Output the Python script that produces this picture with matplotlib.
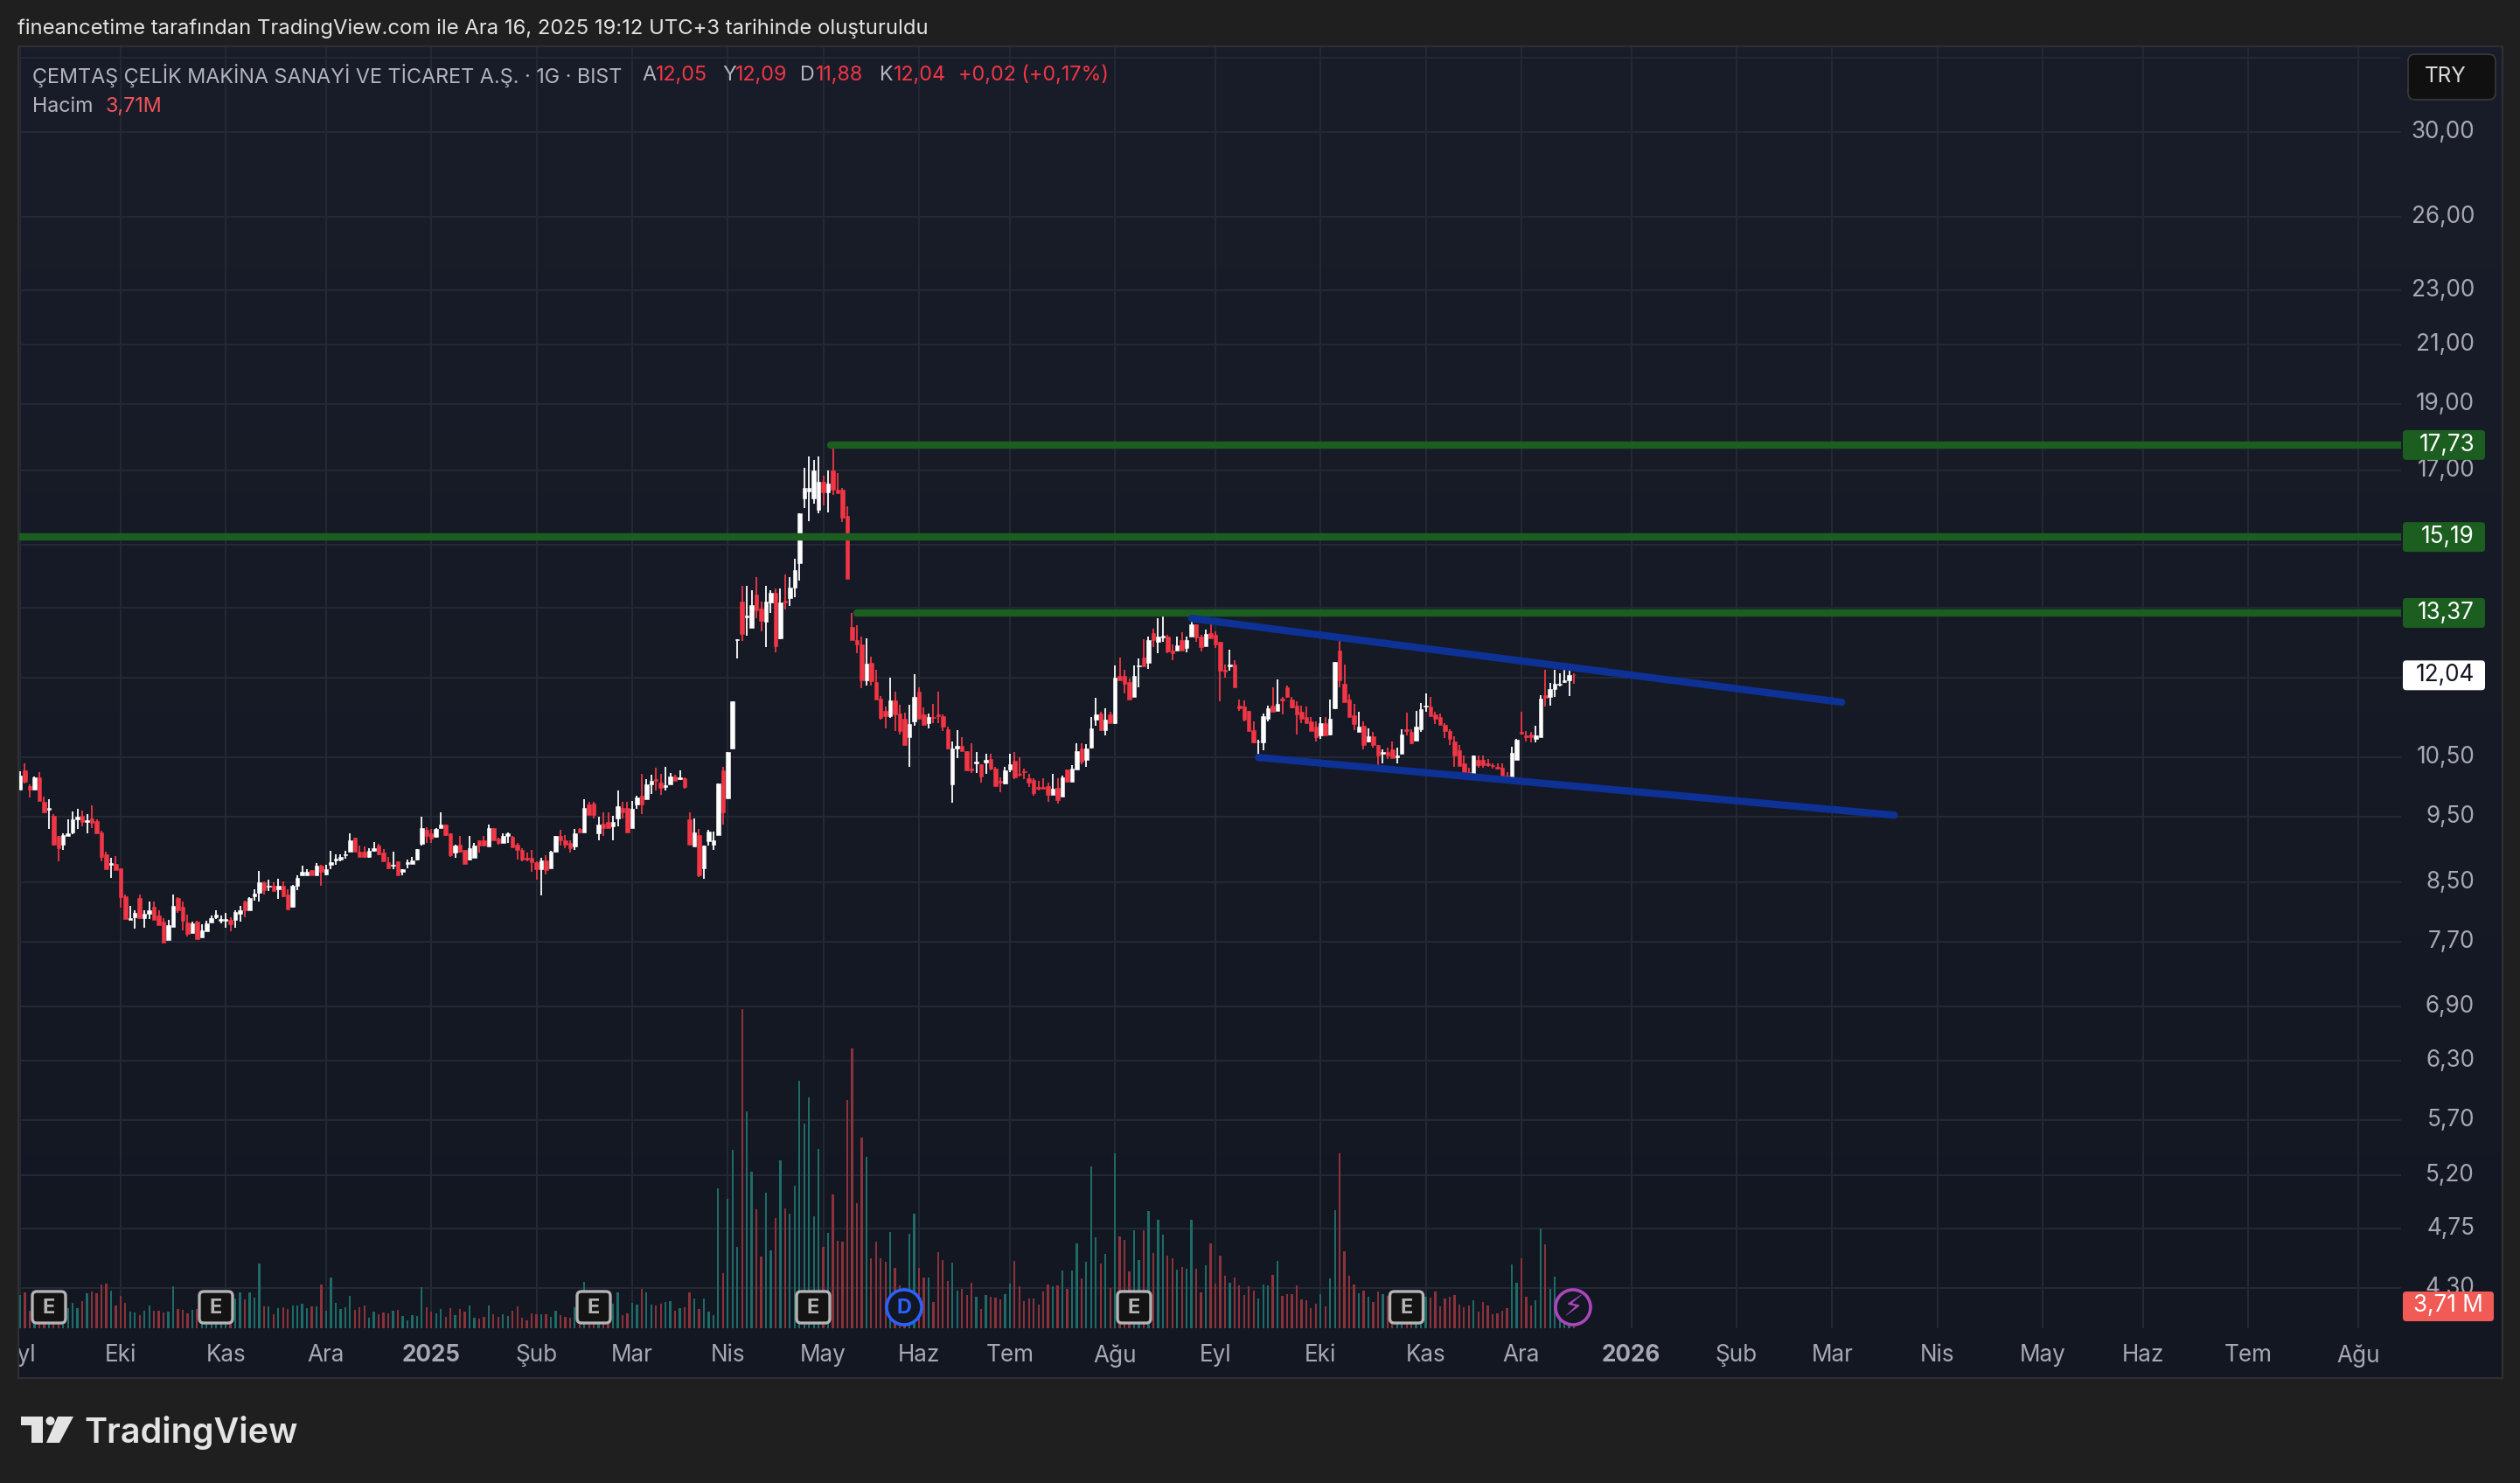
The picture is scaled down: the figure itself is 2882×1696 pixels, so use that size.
import numpy as np
import matplotlib
matplotlib.use("Agg")
import matplotlib.pyplot as plt
from matplotlib.patches import Rectangle, FancyBboxPatch, Circle, Polygon
from matplotlib.ticker import NullLocator, NullFormatter
from matplotlib.transforms import ScaledTranslation

plt.rcParams['font.family'] = ['Inter', 'DejaVu Sans']

directions = ("WRRWRRWRRW" "WWWRWRRRRW" "RRRWWRWWRR" "RWWRRRWRWW" "WWWWRWWRWW"
              "WRWRWRRWWW" "WRWRWWWWWW" "RRRWWRRRWR" "WWWWWRRWWR" "RWRRWWRRWR"
              "RWWRRRRRRW" "RWWRRRWRWR" "RWRRWWRRWW" "RWWRRWWRWR" "RWRWWWWRWW"
              "WRWWRRWWRW" "RWWWWWWWRW" "RRRRRRRWRR" "RRWRRRWWRR" "WRRRRWWRRR"
              "WRWRRRWWRR" "RRRRRRWRWR" "WWRWWWRWRW" "RRRWWRWRWW" "RRWRWWRRWR"
              "RRRWRRRRRW" "WWRWRRRRRR" "RRWRWWRRRR" "WRWRRWRRWW" "RRWWWRRRRR"
              "RRRRWRRRRR" "RRWWRRRWWR" "WWWWWR")

highs = [10.25,10.38,10.03,10.16,10.23,9.82,9.78,9.54,9.20,9.23,
 9.46,9.58,9.62,9.60,9.54,9.68,9.45,9.27,8.95,8.86,
 8.89,8.71,8.33,8.18,8.11,8.33,8.12,8.24,8.23,8.12,
 8.01,7.98,8.33,8.30,8.24,8.05,7.96,7.97,7.92,7.97,
 8.04,8.11,8.04,8.08,8.02,8.11,8.17,8.25,8.29,8.41,
 8.67,8.52,8.54,8.51,8.55,8.52,8.41,8.47,8.60,8.74,
 8.70,8.68,8.78,8.76,8.76,8.97,8.91,8.92,8.97,9.23,
 9.16,9.04,9.03,9.00,9.10,9.07,8.99,8.87,8.95,8.81,
 8.69,8.83,8.87,8.99,9.49,9.33,9.30,9.32,9.57,9.37,
 9.23,9.06,9.19,8.98,9.20,9.09,9.12,9.19,9.37,9.32,
 9.16,9.23,9.25,9.19,9.08,9.01,8.94,8.98,8.81,8.86,
 8.90,8.97,9.20,9.29,9.21,9.13,9.30,9.32,9.78,9.73,
 9.73,9.50,9.57,9.57,9.51,9.93,9.73,9.73,9.75,9.84,
 10.20,10.11,10.19,10.31,10.20,10.33,10.22,10.19,10.26,10.14,
 9.57,9.47,9.30,9.05,9.29,9.26,10.04,10.32,10.58,11.52,
 12.80,14.00,14.00,13.90,14.20,13.63,14.00,13.90,13.93,13.94,
 14.27,14.20,14.65,15.80,17.06,17.39,17.30,17.40,16.85,17.00,
 17.73,16.92,16.50,15.99,13.37,13.10,12.85,12.82,12.42,12.16,
 11.63,11.42,12.00,11.72,11.46,11.31,11.46,12.07,11.80,11.41,
 11.30,11.48,11.72,11.28,11.04,10.78,10.99,10.86,10.60,10.75,
 10.59,10.37,10.55,10.55,10.33,10.15,10.33,10.55,10.59,10.50,
 10.30,10.20,10.13,10.08,10.13,10.05,10.20,10.13,10.18,10.28,
 10.35,10.75,10.75,10.73,11.22,11.59,11.32,11.40,11.33,12.25,
 12.40,12.15,11.98,12.25,12.38,12.80,12.85,13.02,13.26,13.32,
 12.89,12.68,12.85,12.94,12.85,13.26,13.12,12.89,13.00,13.17,
 12.97,12.74,12.27,12.57,12.36,11.57,11.55,11.35,11.14,10.80,
 11.30,11.45,11.80,11.96,11.61,11.84,11.61,11.53,11.45,11.42,
 11.22,11.14,11.22,11.22,11.56,12.32,12.89,12.26,11.66,11.47,
 11.33,11.14,11.01,10.95,10.71,10.64,10.66,10.78,10.66,11.00,
 11.31,11.00,11.34,11.49,11.68,11.61,11.33,11.30,11.11,11.00,
 10.87,10.71,10.53,10.31,10.53,10.53,10.52,10.47,10.39,10.39,
 10.38,10.23,10.68,10.82,11.33,10.97,10.95,11.06,11.65,12.16,
 11.89,12.16,12.09,12.30,12.13,12.09]

body_tops = [10.18,10.26,9.99,10.14,10.14,9.73,9.63,9.51,9.20,9.21,
 9.24,9.45,9.49,9.51,9.44,9.47,9.42,9.25,8.91,8.78,
 8.77,8.71,8.31,8.01,8.08,8.28,8.07,8.12,8.16,8.04,
 7.96,7.91,8.18,8.28,8.16,7.95,7.94,7.96,7.84,7.94,
 8.01,8.05,7.99,7.99,7.98,8.09,8.12,8.24,8.28,8.34,
 8.50,8.50,8.46,8.46,8.45,8.46,8.33,8.46,8.57,8.65,
 8.65,8.68,8.74,8.74,8.70,8.80,8.85,8.87,8.92,9.13,
 9.16,8.96,8.95,8.97,9.00,9.05,8.94,8.80,8.76,8.81,
 8.69,8.80,8.82,8.99,9.32,9.29,9.23,9.30,9.37,9.37,
 9.23,9.05,9.06,8.98,9.01,9.05,9.12,9.12,9.32,9.32,
 9.15,9.19,9.23,9.18,9.06,8.98,8.86,8.86,8.80,8.82,
 8.82,8.95,9.20,9.20,9.13,9.08,9.23,9.30,9.63,9.70,
 9.71,9.37,9.38,9.41,9.41,9.66,9.63,9.64,9.62,9.81,
 9.84,10.03,10.08,10.12,10.06,10.01,10.16,10.16,10.14,10.13,
 9.45,9.25,9.21,9.05,9.26,9.12,10.04,10.26,10.58,11.52,
 12.80,13.64,13.31,13.56,13.80,13.47,13.64,13.84,13.83,13.62,
 13.65,13.96,14.37,15.80,16.50,16.50,17.00,16.68,16.68,16.63,
 17.00,16.46,16.44,15.75,13.06,12.78,12.69,12.28,12.29,11.91,
 11.58,11.34,11.54,11.54,11.30,11.19,11.10,11.62,11.71,11.28,
 11.22,11.23,11.28,11.25,11.00,10.65,10.69,10.69,10.60,10.29,
 10.42,10.37,10.44,10.47,10.30,10.08,10.27,10.37,10.43,10.21,
 10.25,10.13,10.10,9.98,9.98,10.00,9.96,9.97,10.14,10.28,
 10.30,10.60,10.65,10.65,11.01,11.28,11.30,11.17,11.28,12.00,
 12.03,12.03,11.91,12.03,12.25,12.41,12.78,12.93,12.85,12.87,
 12.85,12.56,12.67,12.77,12.78,13.12,13.12,12.85,12.91,12.93,
 12.89,12.74,12.16,12.26,12.27,11.45,11.43,11.35,10.98,10.78,
 11.24,11.40,11.45,11.48,11.58,11.81,11.56,11.45,11.33,11.22,
 11.14,11.04,11.11,11.11,11.20,12.32,12.56,11.88,11.57,11.26,
 11.04,11.06,10.87,10.87,10.71,10.58,10.58,10.64,10.53,10.91,
 11.00,10.95,11.04,11.37,11.45,11.43,11.28,11.22,11.08,10.97,
 10.78,10.62,10.39,10.23,10.53,10.44,10.44,10.38,10.35,10.32,
 10.31,10.17,10.57,10.80,10.95,10.89,10.91,10.89,11.58,11.65,
 11.76,11.87,11.88,11.94,12.04,12.05]

body_bottoms = [9.94,10.07,9.94,9.94,9.75,9.56,9.61,9.06,9.00,9.06,
 9.19,9.25,9.46,9.41,9.41,9.40,9.23,8.87,8.70,8.76,
 8.68,8.30,8.00,7.98,8.02,8.01,8.01,8.07,7.98,7.91,
 7.68,7.72,7.89,8.11,7.97,7.80,7.81,7.73,7.75,7.83,
 7.95,8.02,7.97,7.97,7.93,7.98,8.07,8.12,8.12,8.31,
 8.36,8.39,8.44,8.38,8.40,8.31,8.13,8.16,8.46,8.60,
 8.60,8.61,8.61,8.66,8.62,8.76,8.82,8.84,8.90,8.96,
 8.96,8.88,8.88,8.88,8.97,8.92,8.81,8.71,8.74,8.60,
 8.66,8.77,8.77,8.83,9.07,9.20,9.15,9.18,9.32,9.21,
 8.90,8.94,8.96,8.77,8.83,8.86,9.05,9.05,9.03,9.12,
 9.09,9.09,9.19,9.02,8.98,8.83,8.83,8.80,8.70,8.70,
 8.68,8.71,8.95,9.12,9.06,9.00,9.03,9.25,9.25,9.52,
 9.52,9.23,9.32,9.32,9.34,9.47,9.57,9.25,9.32,9.69,
 9.69,9.78,10.02,10.09,9.97,9.98,10.03,10.08,10.11,9.98,
 9.06,9.03,8.61,8.71,9.11,9.06,9.21,9.57,9.79,10.65,
 12.77,12.91,13.28,13.05,13.43,13.19,13.17,13.61,12.65,12.82,
 13.62,13.72,13.96,14.54,16.20,16.40,16.20,15.90,16.37,16.37,
 16.44,16.35,15.70,14.17,12.78,12.68,11.94,11.95,11.92,11.57,
 11.21,11.25,11.25,11.28,10.97,10.71,10.85,11.14,11.19,11.08,
 11.12,11.21,11.25,11.04,10.65,10.02,10.65,10.60,10.26,10.27,
 10.39,10.16,10.40,10.30,9.99,10.06,10.04,10.28,10.14,10.19,
 10.23,10.06,9.88,9.95,9.95,9.85,9.85,9.77,9.82,10.07,
 10.07,10.28,10.42,10.45,10.66,11.17,10.99,10.99,11.12,11.12,
 11.95,11.87,11.57,11.62,12.22,12.23,12.30,12.78,12.73,12.84,
 12.53,12.50,12.55,12.55,12.60,12.85,12.84,12.63,12.65,12.82,
 12.68,12.14,12.12,12.22,11.80,11.40,11.17,10.96,10.76,10.77,
 10.76,11.19,11.33,11.34,11.55,11.61,11.41,11.27,11.19,11.12,
 10.96,10.86,10.88,10.89,10.91,11.40,11.94,11.51,11.23,11.10,
 10.95,10.71,10.78,10.71,10.53,10.55,10.52,10.48,10.50,10.56,
 10.97,10.75,10.79,11.00,11.42,11.25,11.20,11.08,10.97,10.82,
 10.53,10.34,10.23,10.16,10.20,10.36,10.36,10.35,10.34,10.29,
 10.11,10.11,10.11,10.44,10.92,10.86,10.85,10.83,10.86,11.60,
 11.61,11.76,11.85,11.90,11.94,12.04]

lows = [9.94,10.04,9.81,9.94,9.75,9.56,9.30,9.04,8.81,8.98,
 9.19,9.22,9.30,9.34,9.23,9.32,9.23,8.81,8.70,8.57,
 8.68,8.15,8.00,7.98,7.87,8.00,7.88,8.00,7.98,7.91,
 7.68,7.72,7.89,8.08,7.84,7.76,7.81,7.73,7.75,7.83,
 7.95,7.99,7.94,7.88,7.83,7.88,7.96,8.02,8.11,8.25,
 8.23,8.33,8.38,8.38,8.27,8.29,8.13,8.15,8.39,8.60,
 8.60,8.61,8.61,8.46,8.61,8.70,8.76,8.81,8.85,8.96,
 8.96,8.87,8.86,8.86,8.95,8.90,8.81,8.70,8.69,8.60,
 8.61,8.71,8.77,8.82,9.05,9.08,9.08,9.16,9.32,9.20,
 8.88,8.86,8.94,8.77,8.82,8.86,8.94,9.03,9.03,9.12,
 9.06,9.09,9.08,9.02,8.84,8.81,8.81,8.65,8.54,8.32,
 8.62,8.71,8.94,9.05,9.00,8.94,8.98,9.25,9.25,9.52,
 9.47,9.12,9.20,9.32,9.13,9.35,9.47,9.25,9.32,9.62,
 9.54,9.78,9.87,9.93,9.85,9.93,10.03,10.08,10.10,9.95,
 9.06,9.03,8.58,8.56,9.05,8.98,9.21,9.37,9.79,10.65,
 12.39,12.75,12.88,13.05,13.26,12.96,12.62,13.38,12.51,12.80,
 13.45,13.53,13.74,14.11,15.96,15.60,16.06,15.80,16.03,15.84,
 16.30,16.35,15.57,14.17,12.78,12.49,11.78,11.83,11.83,11.57,
 11.18,11.02,11.21,10.97,10.90,10.71,10.33,11.06,11.19,11.07,
 11.01,11.12,11.11,10.97,10.63,9.72,10.48,10.60,10.26,10.22,
 10.22,10.05,10.20,10.27,9.99,9.89,10.02,10.23,10.11,10.16,
 10.11,9.98,9.84,9.92,9.95,9.74,9.85,9.71,9.82,10.05,
 10.07,10.28,10.37,10.32,10.65,11.07,10.96,10.89,11.12,11.09,
 11.95,11.69,11.56,11.62,11.80,12.23,12.17,12.62,12.49,12.74,
 12.50,12.35,12.55,12.55,12.52,12.85,12.74,12.54,12.65,12.82,
 12.60,11.52,11.99,12.14,11.80,11.34,11.15,10.96,10.75,10.50,
 10.61,11.14,11.33,11.34,11.28,11.60,11.40,10.91,11.11,11.12,
 10.96,10.78,10.82,10.89,10.88,11.37,11.81,11.51,11.23,10.98,
 10.95,10.63,10.76,10.66,10.35,10.39,10.47,10.48,10.39,10.56,
 10.89,10.73,10.79,10.95,11.33,11.25,11.10,11.08,10.84,10.71,
 10.33,10.34,10.23,10.16,10.20,10.31,10.31,10.33,10.29,10.29,
 10.11,10.10,10.11,10.44,10.91,10.78,10.76,10.76,10.85,11.43,
 11.45,11.61,11.82,11.89,11.63,11.88]

volumes_m = [9.4,10.25,4.9,6,5,5,6,5,5.5,6,
 5.7,7.2,5.7,7.7,9.9,10.4,9.9,12.4,12.7,10.7,
 6.4,9.2,7.2,4.7,4.4,3.7,4.9,6.4,4.9,4.9,
 4.4,4.7,11.9,5.4,5.2,4.2,5.2,5.4,6,5,
 5,6,6,7,8,8.4,10.2,8.2,10.2,8.7,
 18.4,6.2,6.2,3.9,5.7,5.9,5.4,6.4,6.4,6.9,
 5.7,6.2,6.2,12.4,4.9,14.4,7.2,5.4,5.9,9.2,
 5.2,5.9,6.4,2.9,4.7,3.9,4.4,4.2,4.9,5.2,
 3.4,2.2,3.7,3.4,11.7,5.9,4.7,4.2,5.4,3.2,
 5.7,3.7,5.4,4.7,6.4,2.9,2.7,3.2,6.4,3.9,
 3.2,3.9,3.4,4.9,6.2,2.9,2.2,4.2,3.9,3.9,
 3.9,3.2,4.9,3.7,3.2,2.9,5.9,5.5,13.2,7,
 6,6,5,5,6.9,10.2,3.7,4.2,7.2,6.7,
 11.2,10.2,6.7,6.4,6.9,7.4,7.7,4.9,5.7,5.9,
 10.25,8.5,5.6,8.5,4.75,3.75,40,15.75,37,51,
 23.25,91.25,62,44.75,34,20.5,38.75,22.25,31.5,48,
 34.25,32.75,40.75,70.75,58.5,66,32,51.25,23.25,27.25,
 38.25,25,24.75,65.25,80,35.75,54.5,49,20,24.75,
 20,19,27.5,17.25,12.25,10.5,27,32.75,17.25,14.5,
 14.5,7.5,21.75,19.5,13.5,18.75,10.75,11.25,9.5,13,
 8.9,5.5,9.5,9,8.75,8.25,9.75,12.75,19.25,12,
 7.75,8.5,8.5,6.75,10.5,12.5,12,12.25,16.5,11.25,
 16.5,24.25,14.25,19,46.25,26,18.5,21.25,11.5,50,
 26.25,25.25,16.25,28,19.5,28,33.5,21.5,31,26.75,
 20.75,20,16.75,17.5,17,31,17,10.25,18,24.25,
 12.75,20.75,15,13,14.5,12.25,9.5,12,10.75,8.5,
 12.5,12.25,15.25,19.25,9.25,9.75,9.75,12.25,8.25,8,
 5.75,7,9.75,6.25,14.25,33.75,50,22,15,12.5,
 10,10.75,9,7.5,10.5,9.75,9.25,8,8,7,
 8,7,8,8,8.9,8.75,10.5,6.25,8.5,8.9,
 9.5,6.75,6,6.5,8,4.75,7.5,6.5,4,4.25,
 5,5.75,18.25,13,20,9,6.5,8,28.5,24,
 11.25,14.75,6,5,4.5,3.71]

month_bars = [0,21,43,64,86,108,128,148,168,188,207,229,250,272,294,314,337,359,379,401,423,444,466,489]
month_labels = ["Eyl","Eki","Kas","Ara","2025","Şub","Mar","Nis","May","Haz","Tem","Ağu","Eyl","Eki","Kas","Ara","2026","Şub","Mar","Nis","May","Haz","Tem","Ağu"]
price_ticks = [34,30,26,23,21,19,17,15,13.5,12,10.5,9.5,8.5,7.7,6.9,6.3,5.7,5.2,4.75,4.3]
covered_ticks = [34, 15, 13.5, 12]   # gridlines whose labels sit behind tags in the reference

level_prices = [17.73, 15.19, 13.37]
level_starts = [169.5, -1, 175]
upper_channel_x, upper_channel_y = [245, 381], [13.25, 11.51]
lower_channel_x, lower_channel_y = [259, 392], [10.49, 9.52]
last_price = 12.04

W, H = 2882, 1696
fig = plt.figure(figsize=(W/100, H/100), dpi=100, facecolor='#1f1f1f')

def frac(x0, y0, x1, y1):
    return [x0/W, 1-y1/H, (x1-x0)/W, (y1-y0)/H]

# panel background
bg = fig.add_axes(frac(21, 53, 2862, 1576), zorder=0)
c0 = np.array(matplotlib.colors.to_rgb('#191d29'))
c1 = np.array(matplotlib.colors.to_rgb('#131722'))
grad = np.linspace(0, 1, 256)[:, None, None]*(c1-c0)+c0
bg.imshow(grad, aspect='auto', extent=(0, 1, 0, 1))
bg.axis('off')

# price pane
PX = [21, 53, 2746, 1519]
ax = fig.add_axes(frac(*PX), zorder=1)
ax.patch.set_visible(False)
ax.set_yscale('log')
ax.set_xlim(-0.37, 498)
ax.set_ylim(4.02, 34.65)
for s in ax.spines.values():
    s.set_visible(False)
ax.yaxis.set_minor_locator(NullLocator())
ax.yaxis.set_minor_formatter(NullFormatter())
ax.yaxis.tick_right()
ax.set_yticks(price_ticks)
ax.set_yticklabels(["" if p in covered_ticks else f"{p:.2f}".replace('.', ',') for p in price_ticks])
ax.set_xticks(month_bars)
ax.set_xticklabels(month_labels)
ax.tick_params(axis='y', length=0, pad=60.5, labelsize=18.8, labelcolor='#a6a9b2')
ax.tick_params(axis='x', length=0, pad=13, labelsize=18.8, labelcolor='#a6a9b2')
up_shift = ScaledTranslation(0, 3/100, fig.dpi_scale_trans)
for t in ax.get_yticklabels():
    t.set_ha('right')
    t.set_transform(t.get_transform() + up_shift)
for t in ax.get_xticklabels():
    if t.get_text() in ('2025', '2026'):
        t.set_fontweight('bold')
ax.grid(True, color='#252934', lw=1.4)
ax.set_axisbelow(True)

n = len(highs)
bars = np.arange(n)
up = np.array([d == 'W' for d in directions])
cols = np.where(up, '#ffffff', '#f23645')
tops = np.array(body_tops)
bots = np.array(body_bottoms)
ax.vlines(bars, lows, highs, colors=cols, lw=1.3, zorder=3)
ax.bar(bars, tops-bots, bottom=bots, width=0.82, color=cols, edgecolor=cols, lw=0.4, zorder=4)

# drawings
for p, s in zip(level_prices, level_starts):
    ax.plot([s, 498.5], [p, p], color='#1b5e20', lw=6.1, solid_capstyle='round', zorder=6)
for xs, ys in ((upper_channel_x, upper_channel_y), (lower_channel_x, lower_channel_y)):
    ax.plot(xs, ys, color='#0d3194', lw=6.0, solid_capstyle='round', zorder=6)

# volume pane
vx = fig.add_axes(frac(*PX), zorder=2)
vx.patch.set_visible(False)
vx.set_xlim(ax.get_xlim())
vx.set_ylim(0, (PX[3]-PX[1])/4)
vx.axis('off')
vx.bar(bars, volumes_m, width=0.42, color=np.where(up, '#1e6b67', '#8b323a'))

# overlay in pixel coordinates: labels, badges, frame
ov = fig.add_axes([0, 0, 1, 1], zorder=5)
ov.set_xlim(0, W)
ov.set_ylim(H, 0)
ov.axis('off')
ov.patch.set_visible(False)

ov.add_patch(Rectangle((0, 1525), 20, 50, fc='#1f1f1f', ec='none'))
ov.add_patch(Rectangle((21, 53), 2841, 1523, fc='none', ec='#2d2f33', lw=1.6))

def txt(x, y, s, color, size=19, ha='left', weight='normal', **kw):
    return ov.text(x, y, s, color=color, fontsize=size, ha=ha, va='center', fontweight=weight, **kw)

txt(20, 33, "fineancetime tarafından TradingView.com ile Ara 16, 2025 19:12 UTC+3 tarihinde oluşturuldu", '#e3e3e3', 17.15)

grey, red = '#b2b5be', '#f23645'
txt(37, 86, "ÇEMTAŞ ÇELİK MAKİNA SANAYİ VE TİCARET A.Ş. · 1G · BIST", grey, 16.8)
for x, lab in ((734, 'A'), (826, 'Y'), (915, 'D'), (1006, 'K')):
    txt(x, 86, lab, grey, 16.8)
for x, val in ((750, '12,05'), (841, '12,09'), (933, '11,88'), (1022, '12,04'), (1096, '+0,02 (+0,17%)')):
    txt(x, 86, val, red, 16.8)
txt(37, 122, "Hacim", grey, 16.8)
txt(120.5, 122, "3,71M", '#f0555a', 16.8)

# TRY box
ov.add_patch(FancyBboxPatch((2754, 62), 100, 52, boxstyle='round,pad=0,rounding_size=8', fc='#101010', ec='#3a3a3a', lw=1.2))
txt(2773, 88, "TRY", '#dadada', 17.5)

# price tags
y_of = lambda p: 537.5 + 680.6*np.log(17/p)
def tag(p, s, fc, tc, x1=2842):
    y = y_of(p)
    ov.add_patch(FancyBboxPatch((2748, y-17), x1-2748, 34, boxstyle='round,pad=0,rounding_size=4', fc=fc, ec='none'))
    txt(x1-12, y, s, tc, 18.8, ha='right')
for p in level_prices:
    tag(p, f"{p:.2f}".replace('.', ','), '#1b5e20', '#ffffff')
tag(last_price, "12,04", '#ffffff', '#131722')
ov.add_patch(FancyBboxPatch((2748, 1477), 104, 34, boxstyle='round,pad=0,rounding_size=4', fc='#f15a55', ec='none'))
txt(2840, 1493, "3,71 M", '#ffffff', 18.8, ha='right')

# event badges
for cx in (56, 247, 679, 930, 1297, 1608.5):
    ov.add_patch(FancyBboxPatch((cx-19, 1477), 38, 36, boxstyle='round,pad=0,rounding_size=5', fc='#131313', ec='#b4b4b4', lw=2.4))
    txt(cx, 1495.5, "E", '#b4b4b4', 17, ha='center', weight='bold')
ov.add_patch(Circle((1034, 1495), 20, fc='#131722', ec='#2962ff', lw=2.6))
txt(1034, 1495.5, "D", '#2962ff', 17, ha='center', weight='bold')
ov.add_patch(Circle((1799, 1495), 20, fc='#131722', ec='#ab47bc', lw=2.6))
txt(1799, 1495, "\u26a1", '#ab47bc', 24, ha='center', family='DejaVu Sans')

# logo
logo = '#e4e4e4'
ov.add_patch(Polygon([(24, 1620), (49, 1620), (49, 1650), (36, 1650), (36, 1630), (24, 1630)], fc=logo, ec='none'))
ov.add_patch(Circle((57.5, 1625), 5, fc=logo, ec='none'))
ov.add_patch(Polygon([(66, 1620), (84, 1620), (68, 1650), (53, 1650)], fc=logo, ec='none'))
txt(96, 1638, "TradingView", logo, 28.5, weight='semibold')

fig.savefig('out.png', dpi=100, facecolor=fig.get_facecolor())
